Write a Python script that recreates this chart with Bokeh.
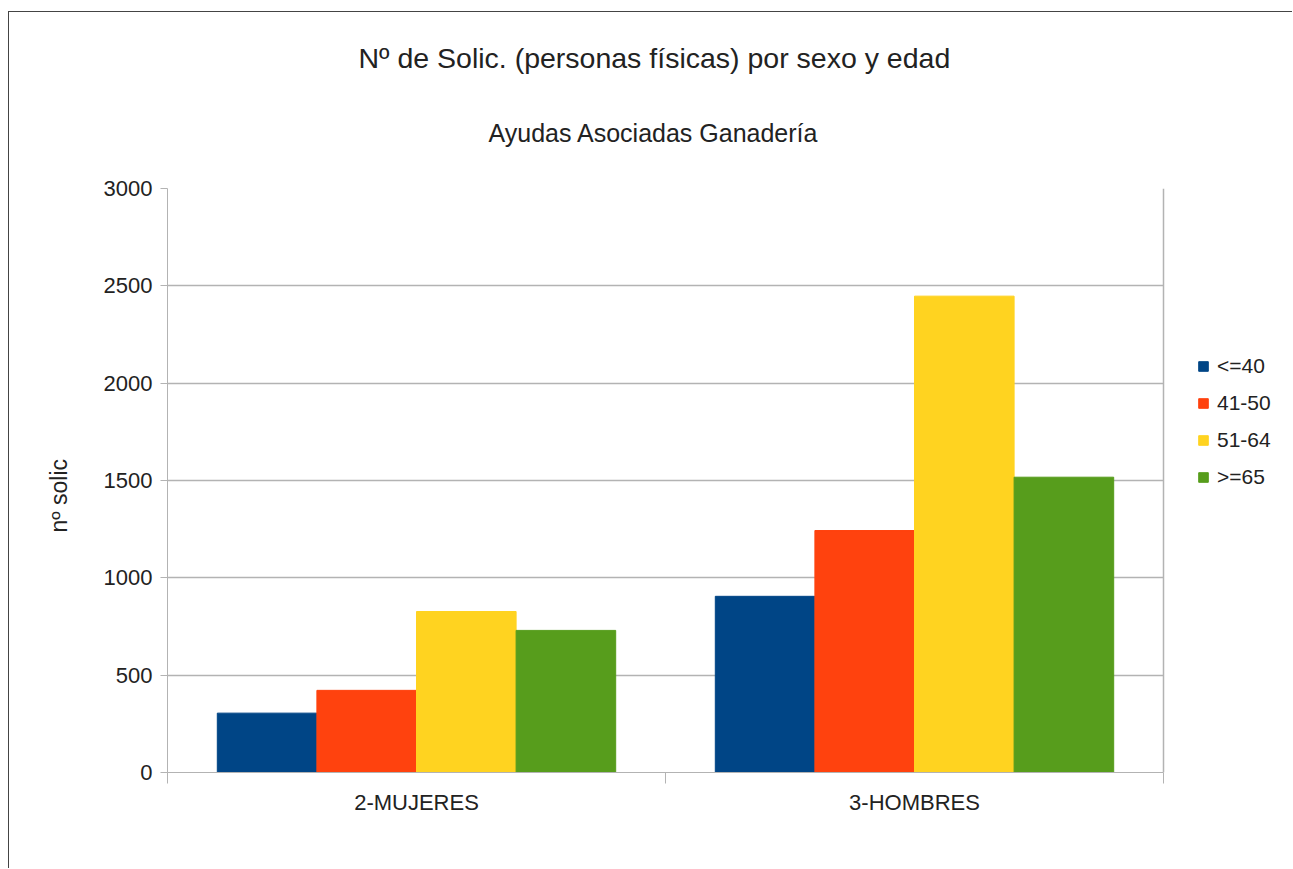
from bokeh.plotting import figure
from bokeh.models import (Range1d, FixedTicker, CustomJSTickFormatter, Legend,
                          LegendItem, Title, Span)
from bokeh.embed import file_html
from bokeh.resources import INLINE

# ---- data ----
categories = ["2-MUJERES", "3-HOMBRES"]
age_groups = ["<=40", "41-50", "51-64", ">=65"]
mujeres = [305, 422, 827, 730]
hombres = [905, 1243, 2447, 1517]
colors = ["#004586", "#ff420e", "#ffd320", "#579d1c"]
y_ticks = [0, 500, 1000, 1500, 2000, 2500, 3000]

title_text = "Nº de Solic. (personas físicas) por sexo y edad"
subtitle_text = "Ayudas Asociadas Ganadería"
y_label = "nº solic"

FONT = "Liberation Sans"
TXT = "#222222"
GRID = "#b3b3b3"
W, H = 1284, 857
LEFT = 158            # frame left inside the canvas
PLOT_W = 996          # width of the bar area (categories)
FRAME_W = W - LEFT - 1  # frame extends to the right so the legend is drawn inside it
n = len(categories)

p = figure(width=W, height=H,
           x_range=Range1d(0, n * FRAME_W / PLOT_W), y_range=Range1d(0, 3000),
           output_backend="svg", toolbar_location=None,
           min_border_left=LEFT, min_border_right=1,
           min_border_top=176, min_border_bottom=97)
p.title.visible = False
p.background_fill_color = "white"
p.border_fill_color = "white"
p.outline_line_color = None
p.styles = {"border-top": "1px solid #444444", "border-left": "1px solid #444444",
            "margin-left": "8px", "margin-top": "11px"}

group_width = 0.8
bar_w = group_width / len(age_groups)
renderers = []
for j, g in enumerate(age_groups):
    xs = [i + 0.5 + (j - (len(age_groups) - 1) / 2) * bar_w for i in range(n)]
    tops = [mujeres[j], hombres[j]]
    r = p.vbar(x=xs, top=tops, width=bar_w, fill_color=colors[j], line_color=colors[j])
    renderers.append(r)

# right border of the plot area
p.add_layout(Span(location=n, dimension="height", line_color=GRID, line_width=1.5))

# titles (first added is nearest to frame)
p.add_layout(Title(text=subtitle_text, align="left", offset=321, text_font=FONT,
                   text_font_size="25px", text_font_style="normal",
                   text_color=TXT, standoff=84), "above")
p.add_layout(Title(text=title_text, align="left", offset=191, text_font=FONT,
                   text_font_size="28.5px", text_font_style="normal",
                   text_color=TXT, standoff=1), "above")

# y axis
p.yaxis.ticker = FixedTicker(ticks=y_ticks)
p.yaxis.axis_line_color = GRID
p.yaxis.major_tick_line_color = GRID
p.yaxis.major_tick_out = 7
p.yaxis.major_tick_in = 0
p.yaxis.minor_tick_line_color = None
p.yaxis.major_label_text_font = FONT
p.yaxis.major_label_text_font_size = "22px"
p.yaxis.major_label_text_color = TXT
p.yaxis.major_label_standoff = 8

# y axis title
p.add_layout(Title(text=y_label, align="left", offset=240, text_font=FONT,
                   text_font_size="23px", text_font_style="normal",
                   text_color=TXT, standoff=57), "left")

# x axis: labels at category centres, ticks at category boundaries
p.xaxis.bounds = (0, n)
p.xaxis.ticker = FixedTicker(ticks=[i + 0.5 for i in range(n)],
                             minor_ticks=list(range(n + 1)))
p.xaxis.formatter = CustomJSTickFormatter(args=dict(cats=categories),
                                          code="return cats[Math.floor(tick)];")
p.xaxis.axis_line_color = GRID
p.xaxis.major_tick_line_color = None
p.xaxis.major_tick_out = 11
p.xaxis.major_tick_in = 0
p.xaxis.minor_tick_line_color = GRID
p.xaxis.minor_tick_out = 11
p.xaxis.minor_tick_in = 0
p.xaxis.major_label_text_font = FONT
p.xaxis.major_label_text_font_size = "22px"
p.xaxis.major_label_text_color = TXT
p.xaxis.major_label_standoff = 6

p.xgrid.visible = False
p.ygrid.grid_line_color = GRID
p.ygrid.grid_line_width = 1.5
p.ygrid.cross_bounds = (0, n)

legend = Legend(items=[LegendItem(label=g, renderers=[r]) for g, r in zip(age_groups, renderers)],
                location=(PLOT_W + 34, 282), orientation="vertical",
                border_line_color=None, background_fill_alpha=0,
                padding=0, margin=0, glyph_width=12, glyph_height=12,
                label_standoff=8, spacing=11, label_height=26,
                label_text_font=FONT, label_text_font_size="21px",
                label_text_color=TXT)
p.add_layout(legend)

open("out.html", "w").write(file_html(p, INLINE))
